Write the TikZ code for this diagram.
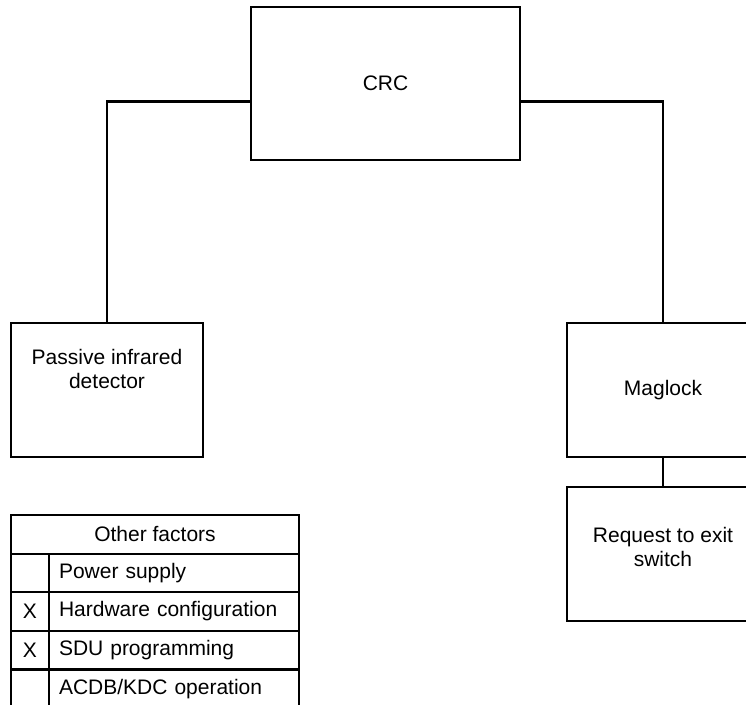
\documentclass[tikz,border=0pt]{standalone}
\usepackage{fontspec}
\setmainfont{Liberation Sans}
\usetikzlibrary{positioning}
\newcommand{\diafont}{\fontsize{21}{24}\selectfont}
\tikzset{
  unit/.style={draw, line width=2.2pt, minimum width=192pt, minimum height=134pt,
               inner sep=0pt, outer sep=0pt, align=center, font=\diafont},
  unittxt/.style={inner sep=0pt, align=center, font=\diafont},
  cell/.style={draw, line width=2.2pt, minimum height=38.6pt, inner sep=0pt,
               outer sep=0pt, font=\diafont},
  markcell/.style={cell, minimum width=38pt},
  factcell/.style={cell, text width=230pt, inner xsep=10pt, align=left},
  wire/.style={line width=2.2pt},
}

\begin{document}
\begin{tikzpicture}[x=1pt, y=-1pt]
\useasboundingbox (0,0) rectangle (746,704);
\clip (0,0) rectangle (746,704);

% ---- units ----
\node[unit, minimum width=269pt, minimum height=153pt] (crc) at (385.5,83.5) {CRC};
\node[unit] (pir) at (107,390) {};
\node[unittxt, below=26.5pt of pir.north] (pirtxt) {Passive infrared\\detector};
\node[unit] (mag) at (663,390) {Maglock};
\node[unit, below=30pt of mag] (rte) {};
\node[unittxt, below=40.5pt of rte.north] (rtetxt) {Request to exit\\switch};

% ---- wiring ----
\draw[wire] ([yshift=-18pt]crc.west) -| (pir.north);
\draw[wire] ([yshift=-18pt]crc.east) -| (mag.north);
\draw[wire] (mag.south) -- (rte.north);

% ---- other factors ----
\node[cell, minimum width=288pt, anchor=north west] (hdr) at (11,515) {Other factors};
\foreach \i/\mk/\what in {1/{}/Power supply, 2/X/Hardware configuration,
                           3/X/SDU programming, 4/{}/{ACDB/KDC operation}} {
  \node[markcell, anchor=north west] (mk\i) at (11,{515+38.6*\i}) {\mk};
  \node[factcell, anchor=north west] (fac\i) at (mk\i.north east) {\what};
}

\end{tikzpicture}
\end{document}
